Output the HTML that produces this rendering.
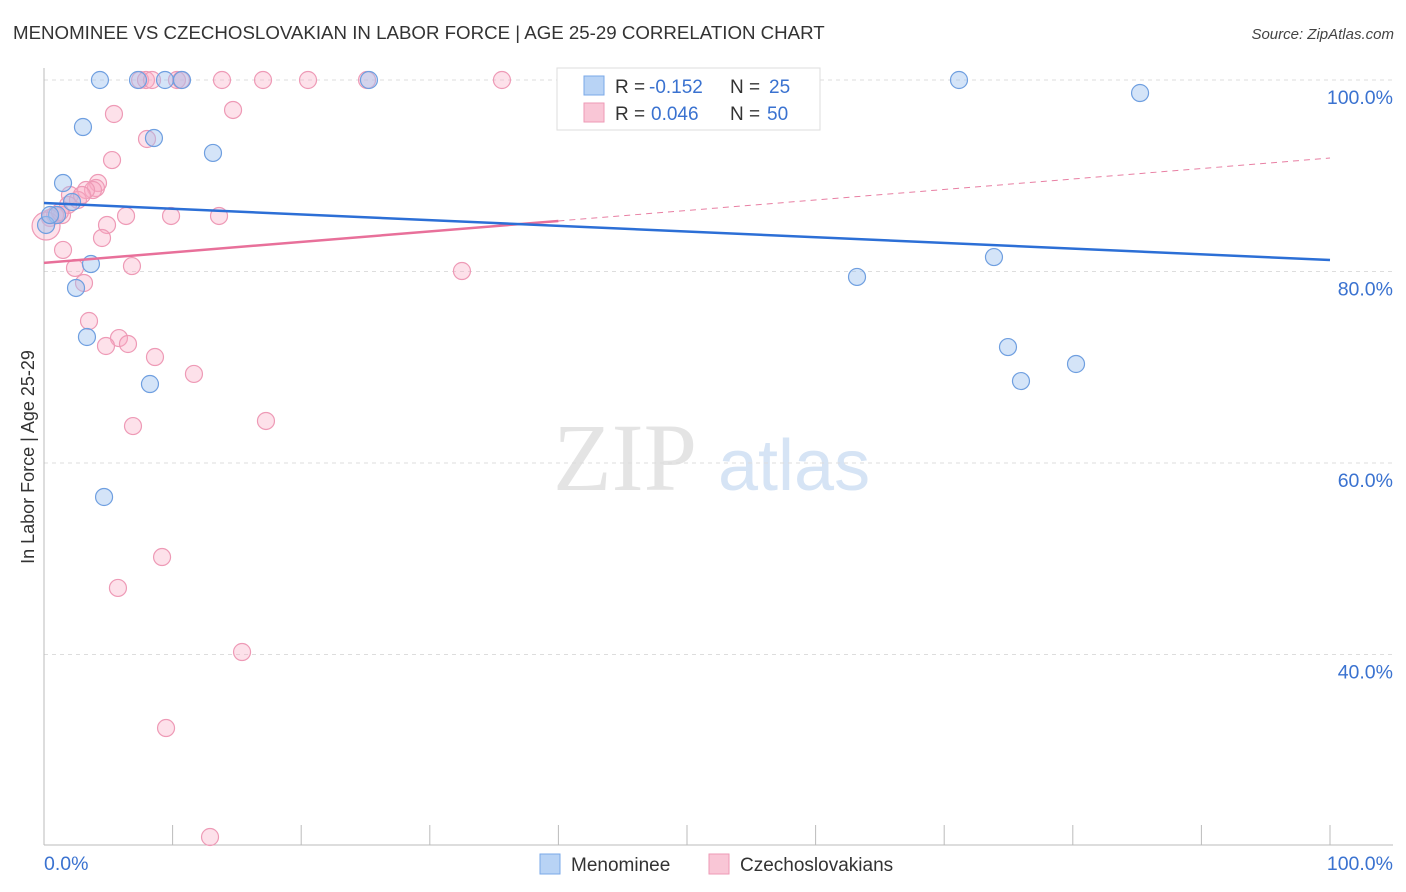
<!DOCTYPE html>
<html><head><meta charset="utf-8"><style>
body{margin:0;background:#fff;font-family:"Liberation Sans",sans-serif;}
svg{display:block}
</style></head><body>
<svg id="chart" width="1406" height="892" xmlns="http://www.w3.org/2000/svg">
<text x="13" y="39" font-size="18.7" fill="#333">MENOMINEE VS CZECHOSLOVAKIAN IN LABOR FORCE | AGE 25-29 CORRELATION CHART</text>
<text x="1394" y="39" font-size="15" fill="#444" font-style="italic" text-anchor="end">Source: ZipAtlas.com</text>
<g>
<text x="553" y="490" font-size="96" font-family="Liberation Serif" fill="#e4e4e4">ZIP</text>
<text x="718" y="490" font-size="72" fill="#d6e4f5">atlas</text>
</g>
<g id="grid"></g>
<g id="axes"></g>
<g id="marks"></g>
<text transform="translate(34,457) rotate(-90)" font-size="18" fill="#333" text-anchor="middle">In Labor Force | Age 25-29</text>
<g>
<rect x="557" y="68" width="263" height="62" fill="#fff" stroke="#ddd"/>
<rect x="584" y="76" width="20" height="19" fill="#b8d3f5" stroke="#7aa8e8"/>
<rect x="584" y="103" width="20" height="19" fill="#f9c6d6" stroke="#ee9ab6"/>
<text x="615" y="93" font-size="19" fill="#333">R =</text>
<text x="649" y="93" font-size="19" fill="#3a72d0">-0.152</text>
<text x="730" y="93" font-size="19" fill="#333">N =</text>
<text x="769" y="93" font-size="19" fill="#3a72d0">25</text>
<text x="615" y="120" font-size="19" fill="#333">R =</text>
<text x="651" y="120" font-size="19" fill="#3a72d0">0.046</text>
<text x="730" y="120" font-size="19" fill="#333">N =</text>
<text x="767" y="120" font-size="19" fill="#3a72d0">50</text>
</g>
<g>
<rect x="540" y="854" width="20" height="20" fill="#b8d3f5" stroke="#7aa8e8"/>
<text x="571" y="871" font-size="19" fill="#333">Menominee</text>
<rect x="709" y="854" width="20" height="20" fill="#f9c6d6" stroke="#ee9ab6"/>
<text x="740" y="871" font-size="19" fill="#333">Czechoslovakians</text>
</g>
</svg>
<script>
const yTicks=[100,80,60,40];
const yTickLabels=["100.0%","80.0%","60.0%","40.0%"];
const xTickLabels=["0.0%","100.0%"];
const blueX=[4.35,7.31,9.41,10.73,25.27,71.15,85.23,3.03,8.55,13.14,1.48,2.18,1.01,0.16,3.65,2.49,3.34,8.24,4.67,63.22,73.87,74.96,75.97,80.25,0.47];
const blueY=[100,100,100,100,100,100,98.64,95.09,93.94,92.38,89.24,87.26,85.9,84.86,80.78,78.28,73.16,68.25,56.45,79.43,81.51,72.11,68.56,70.34,85.9];
const pinkX=[7.47,7.93,8.40,10.34,10.65,13.84,17.03,20.53,25.12,35.61,5.44,14.70,8.01,5.29,4.20,4.04,3.81,3.27,2.02,2.64,1.87,1.40,0.86,0.47,0.16,6.38,9.88,13.61,4.90,4.51,1.48,2.41,6.84,32.50,3.11,3.50,5.83,4.82,6.53,8.63,11.66,6.92,17.26,9.18,5.75,15.40,9.49,12.91,1.24,2.95];
const pinkY=[100,100,100,100,100,100,100,100,100,100,96.45,96.87,93.84,91.64,89.24,88.72,88.51,88.51,87.99,87.47,86.95,85.90,85.90,85.59,84.75,85.80,85.80,85.80,84.86,83.50,82.25,80.37,80.57,80.05,78.80,74.83,73.05,72.22,72.43,71.07,69.30,63.86,64.39,50.18,46.95,40.26,32.32,20.94,86.21,87.99];
const blueTrend=[87.15,81.2];
const pinkTrend=[80.9,91.85];
const pinkSolidEnd=40;

const NS="http://www.w3.org/2000/svg";
const X=v=>44+v*12.86;
const Y=v=>80+(100-v)*9.575;
function mk(tag,attrs,parent){const e=document.createElementNS(NS,tag);for(const k in attrs)e.setAttribute(k,attrs[k]);parent.appendChild(e);return e;}
const grid=document.getElementById('grid'),axes=document.getElementById('axes'),marks=document.getElementById('marks');
yTicks.forEach((t,i)=>{
  const l=mk('line',{x1:44,x2:1393,y1:Y(t),y2:Y(t),stroke:'#ddd','stroke-dasharray':'4,4'},grid);
  
  
  const tx=mk('text',{x:1393,y:Y(t)+24,'font-size':19.5,fill:'#3a72d0','text-anchor':'end'},axes);
  tx.textContent=yTickLabels[i];
  
  
});
const ax=mk('line',{x1:44,x2:44,y1:68,y2:845,stroke:'#bbb'},axes);


const bx=mk('line',{x1:44,x2:1393,y1:845,y2:845,stroke:'#bbb'},axes);


for(let i=0;i<=10;i++){
  const t=mk('line',{x1:X(i*10),x2:X(i*10),y1:825,y2:845,stroke:'#bbb'},axes);
  
  
}
const xl0=mk('text',{x:44,y:870,'font-size':19.5,fill:'#3a72d0'},axes);xl0.textContent=xTickLabels[0];


const xl1=mk('text',{x:1393,y:870,'font-size':19.5,fill:'#3a72d0','text-anchor':'end'},axes);xl1.textContent=xTickLabels[1];



pinkX.forEach((x,i)=>{
  const r=(i===24)?14:8.5;
  const c=mk('circle',{cx:X(x),cy:Y(pinkY[i]),r:r,fill:'rgba(248,170,196,0.35)',stroke:'#ee9ab6','stroke-width':1.2},marks);
  
  
});
blueX.forEach((x,i)=>{
  const c=mk('circle',{cx:X(x),cy:Y(blueY[i]),r:8.5,fill:'rgba(160,195,240,0.45)',stroke:'#6f9fe0','stroke-width':1.2},marks);
  
  
});
const pv=v=>pinkTrend[0]+(pinkTrend[1]-pinkTrend[0])*v/100;
const pd=mk('line',{x1:X(pinkSolidEnd),y1:Y(pv(pinkSolidEnd)),x2:X(100),y2:Y(pinkTrend[1]),stroke:'#e87fa3','stroke-width':1,'stroke-dasharray':'6,5'},marks);


const ps=mk('line',{x1:X(0),y1:Y(pinkTrend[0]),x2:X(pinkSolidEnd),y2:Y(pv(pinkSolidEnd)),stroke:'#e8709a','stroke-width':2.5},marks);


const bl=mk('line',{x1:X(0),y1:Y(blueTrend[0]),x2:X(100),y2:Y(blueTrend[1]),stroke:'#2c6fd6','stroke-width':2.5},marks);


</script>
</body></html>
